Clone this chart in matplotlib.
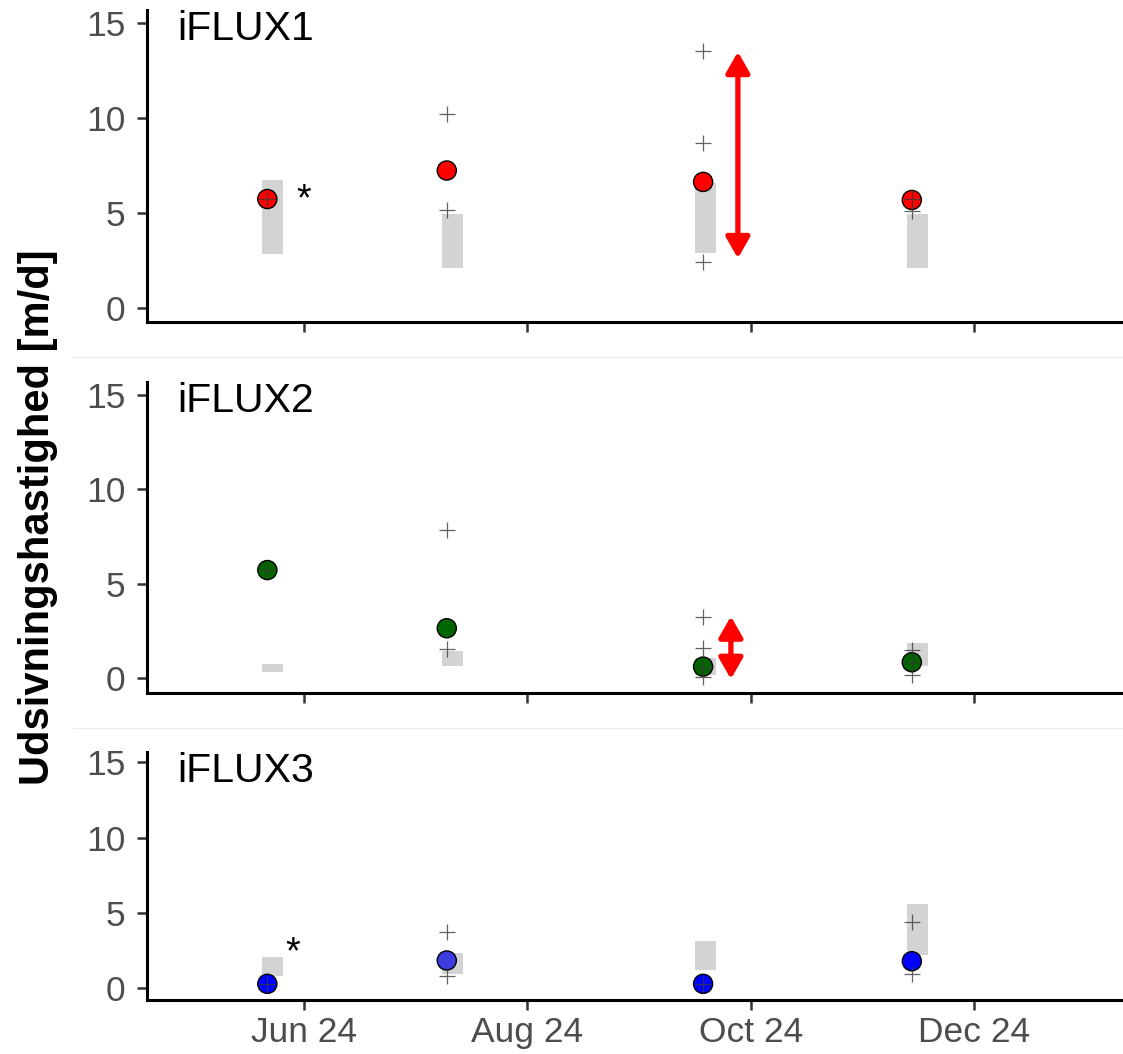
import numpy as np
import pandas as pd
import matplotlib
matplotlib.use("Agg")
import matplotlib.pyplot as plt
import matplotlib.dates as mdates
from matplotlib.lines import Line2D

plt.rcParams['font.family'] = ['Liberation Sans', 'DejaVu Sans']

# sampling dates (points, crosses) and grey range bars
point_dates = ["2024-05-22", "2024-07-10", "2024-09-18", "2024-11-14"]
bar_dates = ["2024-05-20 12:00", "2024-07-08 15:00", "2024-09-15 17:00", "2024-11-12 17:00"]

panel_names = ["iFLUX1", "iFLUX2", "iFLUX3"]

means1 = [5.75, 7.25, 6.65, 5.7]
crosses1 = [[5.75], [10.2, 5.15], [13.55, 8.7, 2.45], [5.75, 5.1]]
bar_lo1 = [2.87, 2.1, 2.9, 2.1]
bar_hi1 = [6.77, 4.97, 6.6, 4.97]

means2 = [5.73, 2.65, 0.62, 0.85]
crosses2 = [[5.73], [7.83, 1.53], [3.26, 1.59, 0.55, 0.05], [1.5, 0.85, 0.2]]
bar_lo2 = [0.32, 0.65, 0.2, 0.65]
bar_hi2 = [0.74, 1.46, 1.05, 1.88]

means3 = [0.29, 1.84, 0.29, 1.79]
crosses3 = [[0.29], [3.76, 0.84], [0.29], [4.38, 0.95]]
bar_lo3 = [0.84, 0.91, 1.22, 2.22]
bar_hi3 = [2.06, 2.35, 3.12, 5.6]

colors1 = ["#ff0000"] * 4
colors2 = ["#006400"] * 4
colors3 = ["#0000ff", "#3c3ce0", "#0000ff", "#0000ff"]

# asterisk notes (panel index, date, value)
star_notes = [(0, "2024-06-01", 5.7), (2, "2024-05-29", 2.35)]
# red double arrows (panel index, date, low, high)
arrow_notes = [(0, "2024-09-27 12:00", 2.63, 13.5), (1, "2024-09-25 14:00", -0.04, 3.28)]

xticks = ["2024-06-01", "2024-08-01", "2024-10-01", "2024-12-01"]
xlim = ("2024-04-19", "2025-01-10 16:00")

panels = [
    (means1, crosses1, bar_lo1, bar_hi1, colors1),
    (means2, crosses2, bar_lo2, bar_hi2, colors2),
    (means3, crosses3, bar_lo3, bar_hi3, colors3),
]

W, H = 1123, 1054
fig = plt.figure(figsize=(W / 100, H / 100), dpi=100)

# axes boxes in pixels: left, top, bottom
boxes = [(146.5, 10, 322.5), (146.5, 381.7, 692.5), (146.5, 751.7, 999.5)]

def to_num(d):
    return mdates.date2num(pd.Timestamp(d).to_pydatetime())

px_x = [to_num(d) for d in point_dates]
bx_x = [to_num(d) for d in bar_dates]

axes = []
for i, (box, data) in enumerate(zip(boxes, panels)):
    left, top, bottom = box
    ax = fig.add_axes([left / W, 1 - bottom / H, 1 - left / W, (bottom - top) / H])
    axes.append(ax)
    means, crosses, lo, hi, cols = data

    ax.bar(bx_x, np.array(hi) - np.array(lo), bottom=lo, width=5.8, align='edge',
           color='#d3d3d3', zorder=1)
    ax.scatter(px_x, means, s=190, c=cols, edgecolors='black', linewidths=1.0, zorder=3)
    for x, vals in zip(px_x, crosses):
        ax.plot([x] * len(vals), vals, ls='none', marker='+', ms=11, mew=0.9,
                color='#3a3a3a', alpha=0.8, zorder=4)

    ax.set_ylim(-0.75, 15.7)
    ax.set_xlim(to_num(xlim[0]), to_num(xlim[1]))
    ax.set_yticks([0, 5, 10, 15])
    ax.set_xticks([to_num(d) for d in xticks])
    ax.xaxis.set_major_formatter(mdates.DateFormatter('%b %y'))
    if i < 2:
        ax.tick_params(axis='x', labelbottom=False)

    for s in ['top', 'right']:
        ax.spines[s].set_visible(False)
    for s in ['left', 'bottom']:
        ax.spines[s].set_linewidth(2.2)
        ax.spines[s].set_color('black')
    ax.tick_params(axis='both', length=7, width=1.8, color='#333333',
                   labelcolor='#4d4d4d', labelsize=25.5)
    ax.tick_params(axis='y', pad=8)
    ax.tick_params(axis='x', pad=5)

    ax.annotate(panel_names[i], xy=(0, 1), xycoords='axes fraction',
                xytext=(31, 0), textcoords='offset pixels',
                ha='left', va='top', fontsize=29.5, color='black')

for p, d, y in star_notes:
    axes[p].text(to_num(d), y, "*", ha='center', va='center', fontsize=27, color='black')

for p, d, y0, y1 in arrow_notes:
    axes[p].annotate('', xy=(to_num(d), y1), xytext=(to_num(d), y0),
                     arrowprops=dict(arrowstyle='<|-|>,head_length=1.05,head_width=0.6',
                                     color='red', lw=3.8, mutation_scale=12,
                                     shrinkA=0, shrinkB=0), zorder=5)

# faint separators between panels
for yy in [357, 728]:
    fig.add_artist(Line2D([73 / W, 1], [1 - yy / H] * 2, color='#ececec', lw=0.8))

fig.text(38 / W, 1 - 517 / H, "Udsivningshastighed [m/d]", rotation=90,
         ha='center', va='center', fontsize=30, fontweight='bold')

fig.savefig("out.png", dpi=100)
